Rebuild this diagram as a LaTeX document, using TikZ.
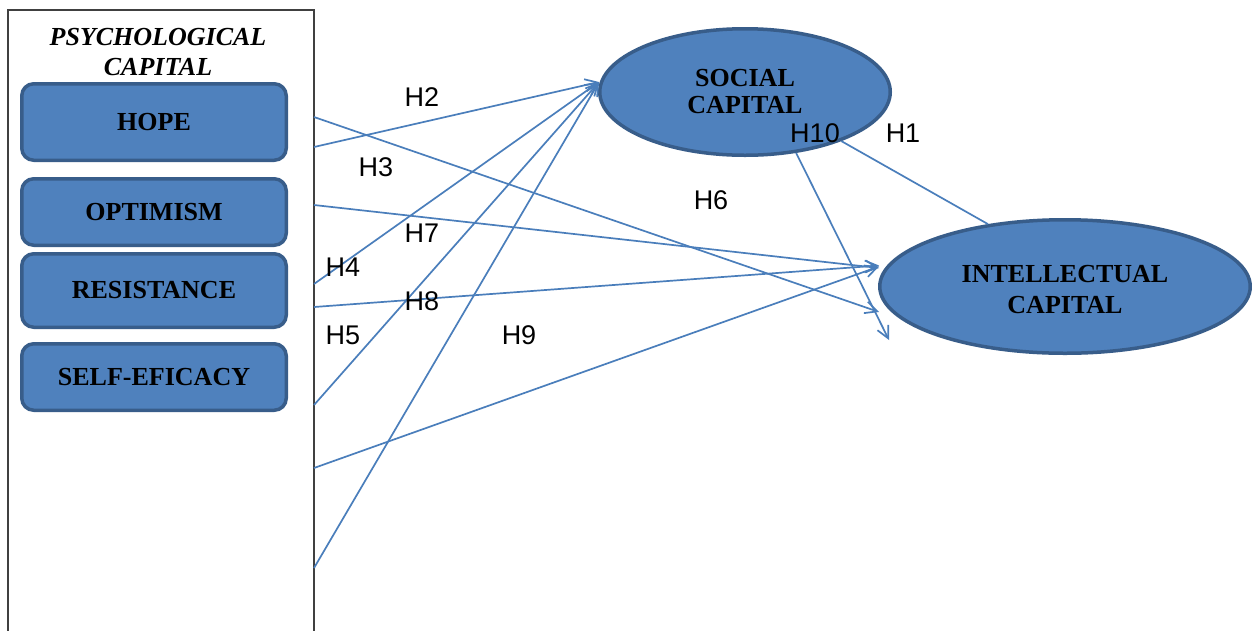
\documentclass[tikz,border=0pt]{standalone}
\usepackage{fontspec}
\setmainfont{Liberation Serif}
\newfontfamily\hfont{Liberation Sans}
\usetikzlibrary{shapes.geometric,arrows.meta,calc}
\definecolor{boxfill}{HTML}{4F81BD}
\definecolor{boxline}{HTML}{385D8A}
\definecolor{conn}{HTML}{4A7EBB}
\definecolor{framec}{HTML}{404040}
\begin{document}
\begin{tikzpicture}[x=1pt,y=-1pt,
 factor/.style={draw=boxline, line width=3.5pt, fill=boxfill, rounded corners=12pt, minimum width=264.5pt, inner sep=0pt, font=\fontsize{26}{28}\selectfont\bfseries},
 construct/.style={ellipse, draw=boxline, line width=3.5pt, fill=boxfill, inner sep=0pt, align=center},
 hyp/.style={font=\hfont\fontsize{27}{30}\selectfont, inner sep=0pt},
 link/.style={draw=conn, line width=1.7pt, -{Straight Barb[length=12pt,width=12pt]}},
 plainlink/.style={draw=conn, line width=1.7pt}]
\useasboundingbox (0,0) rectangle (1252,630);
\fill[white] (0,0) rectangle (1252,630);
% container
\node[draw=framec, line width=1.4pt, minimum width=306pt, minimum height=680pt, anchor=north west, inner sep=0pt, outer sep=0pt] (pc) at (8,10) {};
\node[font=\fontsize{26}{30}\selectfont\bfseries\itshape, align=center, inner sep=0pt] (title) at (158,52) {PSYCHOLOGICAL\\CAPITAL};
% factors
\node[factor, minimum height=76.5pt] (hope) at (154,122) {HOPE};
\node[factor, minimum height=66.5pt] (opt) at (154,212) {OPTIMISM};
\node[factor, minimum height=73.5pt] (res) at (154,290.5) {RESISTANCE};
\node[factor, minimum height=66.5pt] (self) at (154,377) {SELF-EFICACY};
% constructs
\node[construct, minimum width=290.5pt, minimum height=126.5pt, font=\fontsize{26}{27}\selectfont\bfseries] (sc) at (745,92) {SOCIAL\\CAPITAL};
\node[construct, minimum width=370.5pt, minimum height=133.5pt, font=\fontsize{26}{31}\selectfont\bfseries] (ic) at (1065,286.5) {\rule{0pt}{24pt}INTELLECTUAL\\CAPITAL};
% sources on the container edge
\coordinate (o1) at ($(pc.north east)+(0,107)$);
\coordinate (o2) at ($(pc.north east)+(0,137)$);
\coordinate (o3) at ($(pc.north east)+(0,195)$);
\coordinate (o4) at ($(pc.north east)+(0,274)$);
\coordinate (o5) at ($(pc.north east)+(0,297)$);
\coordinate (o6) at ($(pc.north east)+(0,395)$);
\coordinate (o7) at ($(pc.north east)+(0,458)$);
\coordinate (o8) at ($(pc.north east)+(0,558)$);
% connectors
\draw[link] (o1) -- ($(ic.west)+(1,25.5)$);
\draw[link] (o2) -- ($(sc.west)+(1,-10)$);
\draw[link] (o3) -- ($(ic.west)+(1,-18.5)$);
\draw[link] (o4) -- ($(sc.west)+(1,-10)$);
\draw[link] (o5) -- ($(ic.west)+(1,-21)$);
\draw[link] (o6) -- ($(sc.west)+(1,-10)$);
\draw[link] (o7) -- ($(ic.west)+(1,-20)$);
\draw[link] (o8) -- ($(sc.west)+(1,-10)$);
\draw[plainlink] (sc.-27) -- (ic.141);
\draw[link] (sc.-50) -- ($(ic.west)+(11,53.5)$);
% labels
\node[hyp] (h2) at (422,97) {H2};
\node[hyp] (h3) at (376,167) {H3};
\node[hyp] (h7) at (422,233) {H7};
\node[hyp] (h4) at (343,267) {H4};
\node[hyp] (h8) at (422,301) {H8};
\node[hyp] (h5) at (343,335) {H5};
\node[hyp] (h9) at (519,335) {H9};
\node[hyp] (h6) at (711,200) {H6};
\node[hyp] (h10) at (815,133) {H10};
\node[hyp] (h1) at (903,133) {H1};
\end{tikzpicture}
\end{document}
